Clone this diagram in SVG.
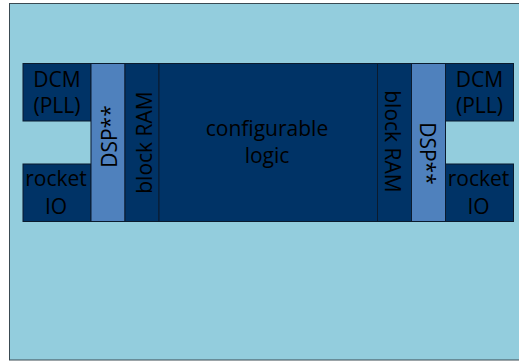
<svg xmlns="http://www.w3.org/2000/svg" width="519" height="361" viewBox="0 0 519 361">
  <style>
    .blk { fill: #003366; stroke: #0b1b2e; stroke-width: 1; }
    .dsp { fill: #4f81bd; stroke: #0b1b2e; stroke-width: 1; }
    .lbl { font-family: "Open Sans", "Liberation Sans", sans-serif; font-size: 21px; fill: #000; text-anchor: middle; }
  </style>
  <rect width="519" height="361" fill="#ffffff"/>
  <!-- die outline -->
  <rect id="die" x="9.5" y="3.5" width="515" height="356.5" fill="#93cddd" stroke="#3a4a52" stroke-width="1"/>

  <g id="dcm-left">
    <rect class="blk" x="23" y="63.5" width="68" height="57.5"/>
    <text class="lbl" x="57" y="86.5">DCM</text>
    <text class="lbl" x="57" y="112.5">(PLL)</text>
  </g>
  <g id="rocketio-left">
    <rect class="blk" x="23" y="164" width="68" height="57.5"/>
    <text class="lbl" x="56" y="186">rocket</text>
    <text class="lbl" x="56" y="214">IO</text>
  </g>
  <g id="dsp-left">
    <rect class="dsp" x="91" y="63.5" width="34" height="158"/>
    <text class="lbl" transform="translate(116.5,136.5) rotate(-90)">DSP**</text>
  </g>
  <g id="bram-left">
    <rect class="blk" x="125" y="63.5" width="34" height="158"/>
    <text class="lbl" transform="translate(151.5,142.5) rotate(-90)">block RAM</text>
  </g>
  <g id="logic">
    <rect class="blk" x="159" y="63.5" width="218.5" height="158"/>
    <text class="lbl" x="267" y="136">configurable</text>
    <text class="lbl" x="267" y="163">logic</text>
  </g>
  <g id="bram-right">
    <rect class="blk" x="377.5" y="63.5" width="34" height="158"/>
    <text class="lbl" transform="translate(385,141.5) rotate(90)">block RAM</text>
  </g>
  <g id="dsp-right">
    <rect class="dsp" x="411.5" y="63.5" width="34" height="158"/>
    <text class="lbl" transform="translate(419.5,153.5) rotate(90)">DSP**</text>
  </g>
  <g id="dcm-right">
    <rect class="blk" x="445.5" y="63.5" width="68" height="57.5"/>
    <text class="lbl" x="479.5" y="86.5">DCM</text>
    <text class="lbl" x="479.5" y="112.5">(PLL)</text>
  </g>
  <g id="rocketio-right">
    <rect class="blk" x="445.5" y="164" width="68" height="57.5"/>
    <text class="lbl" x="478.5" y="186">rocket</text>
    <text class="lbl" x="478.5" y="214">IO</text>
  </g>
  <g id="connectors"/>
</svg>
